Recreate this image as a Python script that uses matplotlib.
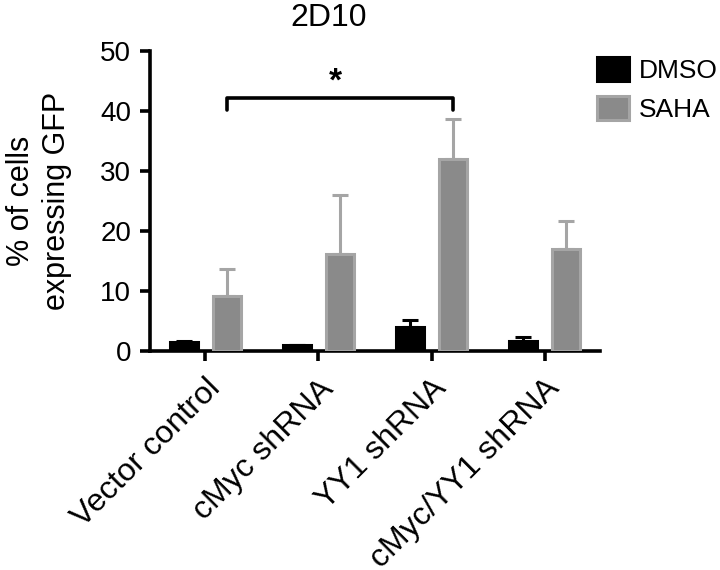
import numpy as np
import matplotlib
matplotlib.use('Agg')
import matplotlib.pyplot as plt

plt.rcParams['font.family'] = ['Liberation Sans', 'DejaVu Sans']

groups = ['Vector control', 'cMyc shRNA', 'YY1 shRNA', 'cMyc/YY1 shRNA']
dmso = [1.4, 0.9, 3.9, 1.7]
dmso_err = [0.3, 0.1, 1.3, 0.6]
saha = [9.1, 16.1, 31.9, 17.0]
saha_err = [4.5, 9.9, 6.8, 4.7]

fig = plt.figure(figsize=(7.2, 5.7), dpi=100)
ax = fig.add_axes([150/720, 1 - 350.7/570, 450/720, 300/570])

x = np.arange(len(groups))
w = 0.25
off = 0.19

# DMSO bars, black
ax.bar(x - off, dmso, w, color='black', edgecolor='black', linewidth=2.2, zorder=3, label='DMSO')
ax.errorbar(x - off, dmso, yerr=[np.zeros(len(dmso)), dmso_err], fmt='none',
            ecolor='black', elinewidth=2.2, capsize=6, capthick=2.2, zorder=2)

# SAHA bars, gray with lighter edge
ax.bar(x + off, saha, w, color='#8a8a8a', edgecolor='#a5a5a5', linewidth=2.2, zorder=3, label='SAHA')
ax.errorbar(x + off, saha, yerr=[np.zeros(len(saha)), saha_err], fmt='none',
            ecolor='#a5a5a5', elinewidth=2.2, capsize=6, capthick=2.2, zorder=2)

ax.set_xlim(-0.49, 3.49)
ax.set_ylim(0, 50)
ax.set_yticks([0, 10, 20, 30, 40, 50])
ax.set_xticks(x)
ax.set_xticklabels(groups, rotation=45, ha='right', rotation_mode='anchor', fontsize=23)

for s in ['top', 'right']:
    ax.spines[s].set_visible(False)
for s in ['left', 'bottom']:
    ax.spines[s].set_linewidth(2.6)
ax.tick_params(axis='both', width=2.6, length=7.5, pad=6)
ax.tick_params(axis='y', labelsize=20)
ax.tick_params(axis='x', pad=9)

ax.set_ylabel('% of cells\nexpressing GFP', fontsize=22, labelpad=20, linespacing=1.3)

# significance bracket
x1, x2 = x[0] + off, x[2] + off
ax.plot([x1, x1, x2, x2], [40.2, 42.1, 42.1, 40.2], color='black', lw=2.6,
        solid_capstyle='round', solid_joinstyle='round', clip_on=False)
ax.text((x1 + x2) / 2 - 0.04, 44.8, '*', ha='center', va='center', fontsize=24, fontweight='bold')

fig.text(329/720, 1 - 26/570, '2D10', ha='center', va='baseline', fontsize=23)

leg = ax.legend(loc='upper left', bbox_to_anchor=(597/720, 1 - 57/570), bbox_transform=fig.transFigure,
                frameon=False, fontsize=19, borderpad=0, borderaxespad=0,
                handlelength=1.2, handleheight=1.0, handletextpad=0.4, labelspacing=0.5)

fig.savefig('out.png', dpi=100)
